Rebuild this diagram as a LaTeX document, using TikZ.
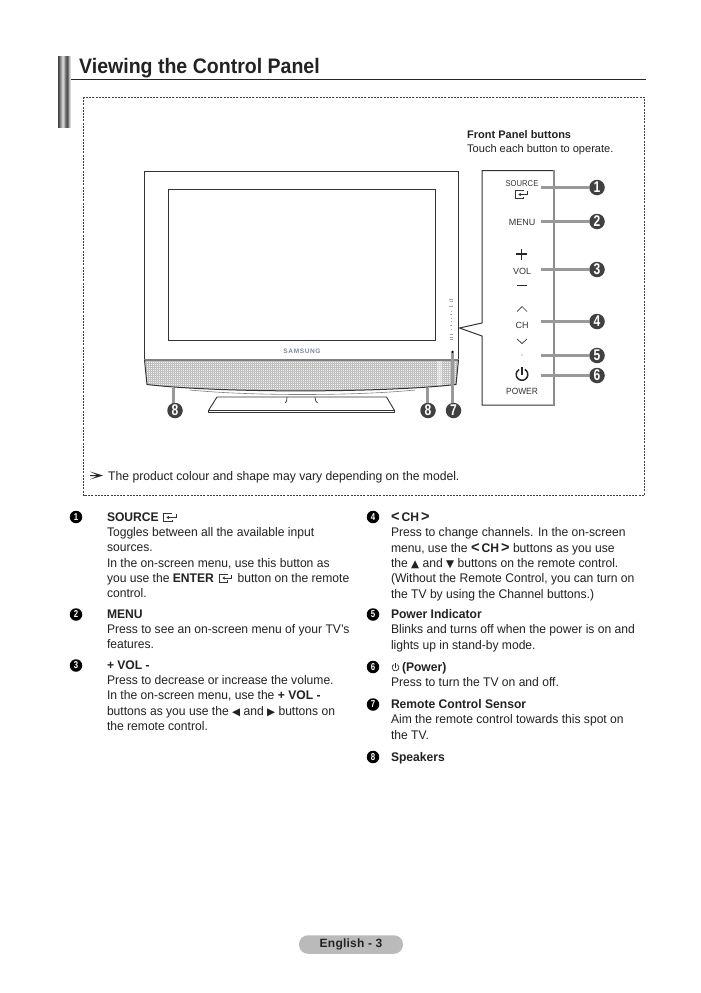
\documentclass[tikz,border=0pt]{standalone}
\usepackage{fontspec}
\setmainfont{Liberation Sans}
\newfontfamily\symf{DejaVu Sans}
\definecolor{ink}{HTML}{222222}
\definecolor{conn}{HTML}{999999}
\definecolor{brandc}{HTML}{7D889C}
\newcommand{\lt}{{\fontsize{15}{15}\selectfont\bfseries<}}
\newcommand{\gt}{{\fontsize{15}{15}\selectfont\bfseries>}}
\newcommand{\tri}[1]{{\symf\fontsize{10.5}{10.5}\selectfont #1}}
\usetikzlibrary{arrows.meta}
\tikzset{
  body/.style={inner sep=0pt,outer sep=0pt,anchor=north west,align=left,text=ink,font=\fontsize{12.5}{15.35}\selectfont\addfontfeatures{FakeStretch=0.968}},
  bigno/.style={circle,fill=black!75,text=white,inner sep=0pt,minimum size=15.5pt,font=\fontsize{15.5}{15.5}\selectfont\bfseries\addfontfeatures{FakeStretch=0.78}},
  smallno/.style={circle,fill=black,text=white,inner sep=0pt,minimum size=12.5pt,font=\fontsize{10}{10}\selectfont\bfseries\addfontfeatures{FakeStretch=0.78}},
  panel/.style={inner sep=0pt,text=black!80,font=\fontsize{9}{9}\selectfont},
  connline/.style={draw=conn,line width=3pt},
  tvline/.style={draw=black!80,line width=1pt},
  entericon/.pic={
    \draw[black!80,line width=.6pt] (1.5,-3.5) -- (-6,-3.5) -- (-6,3.5) -- (1.5,3.5) -- (1.5,2);
    \draw[black!80,line width=.6pt,{Latex[length=2.5pt,width=3.5pt]}-] (-3.5,0) -- (5,0) -- (5,-3);
  },
  powericon/.pic={
    \draw[black!85,line width=#1] (0.5,-0.87) arc[start angle=-60,end angle=240,radius=1];
    \draw[black!85,line width=#1] (0,0) -- (0,-1.35);
  },
}
\begin{document}
\begin{tikzpicture}[x=1pt,y=-1pt]
\useasboundingbox (0,0) rectangle (701,993);
\fill[white] (0,0) rectangle (701,993);

% header bar
\foreach \i/\g in {0/25,1/35,2/50,3/65,4/78,5/82,6/70,7/50,8/38,9/32,10/45,11/70,12/85}{
  \fill[fill=white!\g!black] (58+\i,56) rectangle (59.1+\i,128);
}
\node[inner sep=0pt,anchor=base west,text=ink,font=\fontsize{21}{24}\selectfont\bfseries\addfontfeatures{FakeStretch=0.93}] (title) at (79,73.5) {Viewing the Control Panel};
\coordinate (ruleL) at (71,79.5);
\coordinate (ruleR) at (646,79.5);
\draw[black!85,line width=1pt] (ruleL) -- (ruleR);

% dashed frame
\draw[black!75,line width=.6pt,dash pattern=on 2pt off 1.2pt] (83.5,97) rectangle (644,495.5);

% front panel caption
\node[inner sep=0pt,anchor=base west,text=ink,font=\fontsize{11}{13}\selectfont\bfseries] (fp1) at (467,138) {Front Panel buttons};
\node[inner sep=0pt,anchor=base west,text=ink,font=\fontsize{11.05}{13}\selectfont] (fp2) at (467,152) {Touch each button to operate.};

% TV
\begin{scope}
\clip (145,360) -- (147,384.5) .. controls (220,393) and (380,393) .. (456,384.5) -- (458,360) -- cycle;
\fill[black!4] (144,359) rectangle (459,395);
\foreach \x in {146,148,...,458} \draw[black!25,line width=.25pt] (\x,359) -- (\x,395);
\foreach \y in {361,363,...,395} \draw[black!25,line width=.25pt] (144,\y) -- (459,\y);
\fill[white,opacity=.45] (437,359) rectangle (442,395);
\end{scope}
\draw[tvline] (144.5,360) -- (144.5,171.5) -- (458.5,171.5) -- (458.5,360);
\draw[tvline] (168,189) rectangle (435,340);
\draw[black!50,line width=2pt] (144,360) -- (459,360);
\draw[tvline] (144.5,360) -- (147,384.5) .. controls (220,393) and (380,393) .. (456,384.5) -- (458.5,360);
\draw[black!50,line width=.6pt] (190,390) .. controls (250,396) and (355,396) .. (415,390);
% stand
\draw[black!80,line width=.9pt,line join=round] (217,397) -- (386.5,397) -- (394.5,410.5) -- (394.5,412.5) -- (208.5,412.5) -- (208.5,410.5) -- cycle;
\draw[black!80,line width=.7pt] (209,410.5) -- (394,410.5);
\draw[black!80,line width=.7pt] (287,397) .. controls (287,400) and (286.5,402) .. (285.5,403);
\draw[black!80,line width=.7pt] (315,397) .. controls (315,400) and (316,402) .. (317.5,403);
\node[inner sep=0pt,text=brandc,font=\fontsize{6.5}{6.5}\selectfont\bfseries\addfontfeatures{LetterSpace=10}] (brand) at (302,351) {SAMSUNG};
% tiny panel marks on the TV
\foreach \y/\w in {299.5/4,301.5/3,306/4,311.5/1,314/2,318/1,321/1,325/2,329/1,334/3,337/3,339/3}{
  \draw[black!35,line width=.7pt] (451-\w/2,\y) -- (451+\w/2,\y);
}
\coordinate (tip) at (459.5,328);
\fill[black] (452.5,352) circle[radius=1.4];

% callout panel
\draw[tvline,line join=miter] (554,170.5) -- (482,170.5) -- (482,323) -- (tip) -- (482,336) -- (482,405) -- (554,405);
\draw[black!45,line width=1.3pt] (554,170) -- (554,405.5);
\node[panel,font=\fontsize{8.5}{8.5}\selectfont\addfontfeatures{FakeStretch=0.9}] (psrc) at (522,184) {SOURCE};
\pic[scale=1.1] at (522,194.5) {entericon};
\node[panel] (pmenu) at (522,222) {MENU};
\draw[black!85,line width=1.2pt] (516,254) -- (527,254) (521.5,248.5) -- (521.5,259.5);
\node[panel] (pvol) at (522,271) {VOL};
\draw[black!85,line width=1.2pt] (517,285.5) -- (527,285.5);
\draw[black!80,line width=.7pt] (517,311.5) -- (522,306.5) -- (527,311.5);
\node[panel] (pch) at (522,325.5) {CH};
\draw[black!80,line width=.7pt] (517,339) -- (522,343.5) -- (527,339);
\fill[black!60] (522,355) circle[radius=.7];
\pic[scale=5.8] at (522,374.5) {powericon={1.5pt}};
\node[panel,font=\fontsize{9}{9}\selectfont\addfontfeatures{FakeStretch=0.93}] (ppow) at (522,391.5) {POWER};

% number badges with connectors
\coordinate (c1) at (541,187.5);
\coordinate (c2) at (541,221.5);
\coordinate (c3) at (541,269.5);
\coordinate (c4) at (541,321.5);
\coordinate (c5) at (541,355.5);
\coordinate (c6) at (541,375.5);
\coordinate (c7) at (452.5,353);
\coordinate (c8a) at (173.5,388);
\coordinate (c8b) at (427.5,388);
\node[bigno] (n1) at (597,187.5) {1};
\node[bigno] (n2) at (597,221.5) {2};
\node[bigno] (n3) at (597,269.5) {3};
\node[bigno] (n4) at (597,321.5) {4};
\node[bigno] (n5) at (597,355.5) {5};
\node[bigno] (n6) at (597,375.5) {6};
\node[bigno] (n7) at (453.5,410.5) {7};
\node[bigno] (n8a) at (175,410.5) {8};
\node[bigno] (n8b) at (428,410.5) {8};
\foreach \a/\b in {c1/n1,c2/n2,c3/n3,c4/n4,c5/n5,c6/n6}{
  \draw[connline] (\a) -- (\b);
}
\draw[connline] (c7) -- (c7 |- n7.north);
\draw[connline] (c8a) -- (c8a |- n8a.north);
\draw[connline] (c8b) -- (c8b |- n8b.north);

% note
\fill[black!85] (90,471.5) .. controls (96,474) .. (103,475.5) .. controls (96,477) .. (90,479.5) .. controls (93,477) .. (97,476) -- (90,476) -- (90,475) -- (97,475) .. controls (93,474) .. (90,471.5) -- cycle;
\node[inner sep=0pt,anchor=base west,text=ink,font=\fontsize{12.5}{14}\selectfont\addfontfeatures{FakeStretch=0.972}] (note) at (108,480) {The product colour and shape may vary depending on the model.};

% left column
\node[smallno] (b1) at (76,517) {1};
\node[body] (t1) at (107,512.5) {\textbf{SOURCE}\\Toggles between all the available input\\sources.\\In the on-screen menu, use this button as\\you use the \textbf{ENTER} \hspace{17pt} button on the remote\\control.};
\pic[scale=1.2] at (170.5,517.5) {entericon};
\pic[scale=1.1] at (226,578) {entericon};
\node[smallno] (b2) at (76,614.5) {2};
\node[body] (t2) at (107,609.5) {\textbf{MENU}\\Press to see an on-screen menu of your TV’s\\features.};
\node[smallno] (b3) at (76,665.5) {3};
\node[body] (t3) at (107,660.5) {\textbf{+ VOL -}\\Press to decrease or increase the volume.\\In the on-screen menu, use the \textbf{+ VOL -}\\buttons as you use the \tri{◀} and \tri{▶} buttons on\\the remote control.};

% right column
\node[smallno] (b4) at (373,517) {4};
\node[body] (t4) at (391,512.5) {\lt\,\textbf{CH}\,\gt\\Press to change channels. In the on-screen\\menu, use the \lt\,\textbf{CH}\,\gt\ buttons as you use\\the \tri{▲} and \tri{▼} buttons on the remote control.\\(Without the Remote Control, you can turn on\\the TV by using the Channel buttons.)};
\node[smallno] (b5) at (373,614.5) {5};
\node[body] (t5) at (391,609.5) {\textbf{Power Indicator}\\Blinks and turns off when the power is on and\\lights up in stand-by mode.};
\node[smallno] (b6) at (373,667) {6};
\node[body] (t6) at (391,662) {\hspace*{11pt}\textbf{(Power)}\\Press to turn the TV on and off.};
\pic[scale=3.4] at (395.5,667.5) {powericon={.6pt}};
\node[smallno] (b7) at (373,704.5) {7};
\node[body] (t7) at (391,699.5) {\textbf{Remote Control Sensor}\\Aim the remote control towards this spot on\\the TV.};
\node[smallno] (b8) at (373,757) {8};
\node[body] (t8) at (391,752) {\textbf{Speakers}};

% page pill
\node[rounded corners=9pt,fill=black!27,minimum width=104pt,minimum height=18.5pt,inner sep=0pt,text=ink,font=\fontsize{12}{14}\selectfont\bfseries\addfontfeatures{LetterSpace=2}] (pg) at (351,944.5) {English - 3};
\end{tikzpicture}
\end{document}
